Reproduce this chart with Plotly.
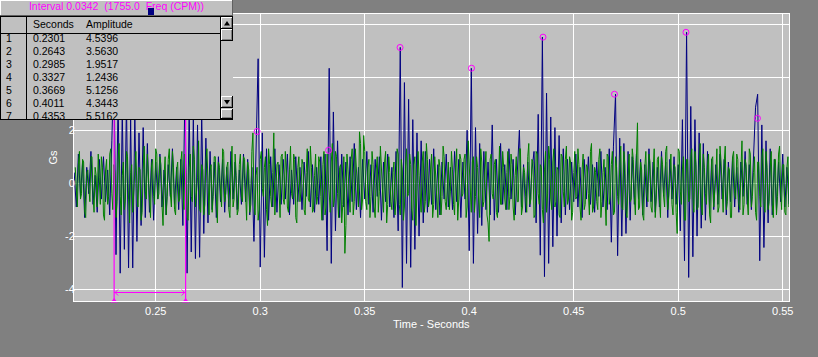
import plotly.graph_objects as go

# ---------------- data ----------------
SAMPLE_DT = 0.001          # seconds between samples within one list
BLUE_START = 0.211         # time of first blue sample
GREEN_START = 0.2115       # time of first green sample (GREEN_GS)
# GREEN_GS_MID holds the green samples that fall half a step after each GREEN_GS sample

BLUE_GS = [
    0.4, -0.9, 1.1, -0.5, 0.8, -1.3, 0.6, -0.4, 1.2, -0.8,
    0.3, -1.1, 0.9, -0.6, 1.0, -0.7, 0.5, -1.2, 1.6, 4.54,
    -2.7, 3.3, -3.4, 2.8, -2.5, 3.1, -3.2, 2.4, -3.2, 2.6,
    -2.2, 1.9, -1.6, 2.1, -1.3, 1.5, -1.1, 0.9, -1.4, 0.8,
    -0.6, 1.1, -0.9, 0.5, -1.2, 0.7, -0.5, 1.3, -0.8, 0.6,
    -1.0, 0.9, -1.6, 3.56, -3.4, 2.9, -2.6, 2.5, -2.85, 2.2,
    -2.8, 2.6, -1.9, 1.7, -1.5, 1.2, -1.0, 0.8, -1.3, 1.0,
    -0.7, 0.9, -1.1, 0.6, -0.9, 1.2, -0.6, 0.8, -1.0, 0.5,
    -0.8, 1.1, -0.7, 0.9, -1.2, 0.6, -2.2, 1.4, 4.7, -3.17,
    1.9, -2.8, 1.3, -1.4, 1.0, -0.9, 1.3, -1.1, 0.7, -0.8,
    0.9, -0.6, 1.1, -1.2, 0.5, -0.8, 1.0, -0.7, 0.6, -1.0,
    0.8, -0.5, 1.2, -0.9, 0.7, -1.1, 0.6, -0.8, 1.0, -1.4,
    1.1, -2.55, 4.34, -3.03, 2.69, -1.8, 1.6, -1.3, 1.1, -0.9,
    0.8, -1.2, 1.0, -0.7, 1.5, -1.0, 0.6, -1.3, 0.9, -0.6,
    1.2, -0.8, 0.7, -1.1, 0.9, -0.5, 1.0, -1.4, 0.8, -0.7,
    1.1, -0.9, 0.6, -1.3, 1.2, -1.8, 5.13, -3.94, 3.8, -3.03,
    3.17, -3.18, 2.4, -2.5, 1.9, -2.0, 1.6, -1.5, 1.2, -1.1,
    0.9, -0.8, 1.3, -1.0, 0.7, -1.2, 0.8, -0.6, 1.1, -0.9,
    0.6, -1.0, 1.2, -0.7, 0.9, -1.3, 0.8, -0.6, 2.0, -2.55,
    4.34, -3.03, 2.1, -1.9, 1.5, -1.6, 1.2, -1.0, 0.8, -1.2,
    2.2, -1.4, 0.9, -1.1, 1.5, -0.8, 0.7, -1.0, 1.3, -0.6,
    0.9, -1.2, 0.6, 2.0, -0.9, 0.7, -1.1, 0.8, -0.9, 0.5,
    1.2, -1.5, 2.6, -2.72, 5.52, -3.53, 3.4, -3.03, 2.5, -2.4,
    2.1, -2.0, 1.8, -1.5, 1.3, -1.2, 0.9, -1.0, 0.8, -0.7,
    1.1, -0.9, 0.6, -1.3, 0.9, -0.6, 1.0, -0.8, 0.7, -1.1,
    0.8, -0.5, 1.2, -0.9, 0.6, -1.0, 1.3, -2.23, 1.4, 3.36,
    -2.74, 1.7, -2.0, 1.5, -1.9, 1.2, -1.4, 1.0, -0.8, 1.1,
    -0.6, 0.9, -1.2, 0.7, -0.9, 1.3, -0.7, 0.8, -1.1, 0.6,
    -0.9, 1.2, -0.5, 0.8, -1.3, 0.9, -0.6, 1.0, -0.8, 0.7,
    -1.8, 2.4, -2.93, 5.70, -3.56, 2.9, -2.78, 2.4, -2.0, 1.9,
    -1.7, 1.5, -1.4, 1.2, -1.1, 0.9, -1.0, 0.7, -0.8, 1.1,
    -0.6, 0.9, -1.2, 0.8, -0.7, 1.0, -0.9, 0.6, -1.1, 0.8,
    -0.5, 1.2, -0.8, 0.7, -1.0, 0.9, 2.87, 3.36, -2.93, 2.2,
    -2.43, 1.6, -1.5, 1.3, -1.2, 0.9, -1.0, 0.8, -0.7, 1.1,
    -0.9, 0.6, -0.8,
]

GREEN_GS = [
    0.6, -0.9, 1.2, -0.4, 0.8, -1.3, 0.5, -0.7, 1.0, -1.1,
    0.3, 1.1, -0.8, 0.6, -1.4, 0.9, -0.5, 1.3, -1.0, 0.4,
    -0.7, 1.5, -1.2, 0.8, -0.6, 1.0, -1.5, 0.7, -0.3, 1.2,
    -0.9, 0.5, -1.1, 1.4, -0.6, 0.2, -1.3, 0.9, -0.8, 1.1,
    -0.4, 0.7, -1.6, 1.0, -0.5, 1.3, -0.9, 0.6, -1.2, 0.8,
    -0.6, 1.2, -1.0, 0.4, -1.4, 1.1, -0.7, 0.9, -0.3, 1.6,
    -1.1, 0.5, -0.8, 1.3, -1.2, 0.7, -0.5, 1.0, -1.5, 0.6,
    -0.9, 1.2, -0.4, 0.8, -1.3, 1.4, -0.6, 0.3, -1.0, 1.1,
    -0.7, 0.9, -1.4, 0.5, -0.8, 1.9, -1.2, 0.6, -1.0, 1.2,
    -0.5, 1.0, -1.6, 0.7, -0.9, 1.9, -0.4, 0.8, -1.3, 1.1,
    -0.8, 0.5, -1.1, 1.4, -0.6, 0.9, -1.5, 1.0, -0.3, 0.7,
    -1.2, 1.3, -0.7, 0.6, -1.0, 1.1, -0.5, 0.8, -1.4, 1.2,
    -0.9, 0.4, -1.1, 1.5, -0.6, 1.0, -1.3, 0.7, -0.8, -2.65,
    1.1, -0.6, 0.9, -1.2, 1.3, -0.4, 1.94, -1.0, 1.8, -0.7,
    0.6, -1.3, 1.2, -0.9, 0.5, -1.1, 1.4, -0.6, 0.8, -1.5,
    1.0, -0.7, 0.4, -1.2, 1.3, -0.8, 0.9, -1.4, 0.6, -0.5,
    1.1, -1.0, 0.7, -1.6, 1.2, -0.4, 0.8, -1.1, 1.5, -0.9,
    0.5, -1.3, 1.0, -0.6, 0.9, -1.2, 1.4, -0.7, 0.3, -1.0,
    1.2, -0.8, 0.6, -1.4, 1.1, -0.5, 0.9, -1.3, 1.6, -0.7,
    0.8, -1.1, 1.0, -0.6, 1.3, -0.9, 0.5, -1.2, -2.2, 1.1,
    -0.6, 0.9, -1.3, 1.4, -0.8, 0.6, -1.0, 1.2, -0.5, 0.7,
    -1.4, 1.0, -0.7, 1.3, -0.9, 0.4, -1.1, 1.5, -0.6, 0.8,
    -1.2, 1.1, -0.8, 0.6, -1.5, 1.2, -0.4, 0.9, -1.0, 1.3,
    -0.7, 0.5, -1.3, 1.0, -0.9, 1.4, -0.6, 0.8, -1.1, 1.2,
    -0.5, 0.7, -1.4, 1.1, -0.8, 0.6, -1.2, 1.5, -0.9, 0.4,
    -1.0, 1.3, -0.7, 0.9, -1.6, 1.0, -0.5, 1.2, -1.1, 0.6,
    -0.8, 1.4, -1.0, 0.7, -1.3, 1.1, -0.6, 0.9, -1.2, 2.28,
    -0.9, 0.5, -1.4, 1.2, -0.7, 0.8, -1.1, 1.3, -0.6, 1.0,
    -1.3, 0.7, -0.9, 1.4, -0.5, 1.1, -1.2, 0.6, -1.9, 1.2,
    -0.8, 1.0, -1.4, 0.9, -0.6, 1.3, -1.1, 0.7, -0.9, 1.5,
    -1.2, 0.6, -0.8, 1.1, -1.5, 1.0, -0.4, 1.3, -0.9, 0.8,
    -1.1, 1.4, -0.7, 0.5, -1.3, 1.2, -0.6, 0.9, -1.0, 1.6,
    -0.8, 0.7, -1.2, 1.1, -0.5, 1.0, -1.4, 0.8, -0.9, 1.3,
    -1.1, 0.6, -0.7, 1.2, -1.3, 0.9, -0.5, 1.4, -1.0, 0.7,
    -1.2, 1.0, -0.6,
]

GREEN_GS_MID = [
    -0.3, 0.7, -0.6, 0.9, -1.1, 0.4, -0.2, 1.0, -0.5, 0.6,
    -0.9, 0.2, 1.0, -1.2, 0.5, -0.8, 1.1, -0.4, 0.7, -1.3,
    0.9, -0.5, 0.3, -1.0, 1.2, -0.6, 0.4, -1.1, 0.8, -0.2,
    0.6, -1.4, 0.5, -0.3, 1.1, -0.9, 0.7, -0.5, 1.3, -0.6,
    1.0, -0.8, 0.3, -1.2, 0.9, -0.4, 1.2, -1.0, 0.5, -0.7,
    0.8, -0.3, 1.1, -1.3, 0.6, -0.5, 1.4, -0.9, 0.2, -1.0,
    0.7, -1.2, 0.9, -0.4, 0.5, -1.1, 1.0, -0.6, 0.8, -0.3,
    1.3, -0.7, 0.6, -1.0, 0.4, -0.9, 1.1, -1.2, 0.7, -0.5,
    1.0, -0.4, 0.8, -1.1, 1.2, -0.6, 0.3, -1.4, 0.9, -0.2,
    0.6, -1.0, 1.3, -0.5, 0.4, -1.2, 0.7, -0.8, 1.0, -0.6,
    1.2, -0.9, 0.5, -0.4, 1.1, -1.3, 0.6, -0.7, 0.9, -1.0,
    0.4, -0.6, 1.4, -1.1, 0.3, -0.8, 1.0, -0.5, 0.7, -1.2,
    1.1, -0.3, 0.8, -0.9, 1.2, -0.4, 0.6, -1.5, 1.0, -1.6,
    0.5, -1.1, 1.3, -0.7, 0.4, -0.9, 1.5, -0.6, 1.2, -1.0,
    0.9, -0.5, 0.7, -1.3, 1.0, -0.3, 0.6, -1.1, 1.2, -0.8,
    0.4, -1.0, 0.8, -0.6, 1.1, -1.2, 0.5, -0.9, 1.3, -0.4,
    0.7, -1.4, 1.0, -0.5, 0.3, -1.1, 1.2, -0.7, 0.9, -0.6,
    1.1, -0.8, 0.4, -1.3, 0.6, -0.5, 1.0, -1.0, 0.8, -0.3,
    0.5, -1.2, 1.3, -0.6, 0.9, -0.4, 1.1, -0.9, 0.7, -1.1,
    1.0, -0.5, 0.6, -1.3, 0.8, -0.7, 1.2, -1.5, 0.9, -0.4,
    0.7, -1.1, 0.5, -0.8, 1.2, -0.6, 0.4, -1.0, 1.1, -0.9,
    0.3, -0.7, 1.3, -1.2, 0.6, -0.5, 1.0, -0.8, 0.9, -1.3,
    1.2, -0.4, 0.7, -1.0, 0.5, -1.1, 1.4, -0.6, 0.8, -0.9,
    0.6, -1.2, 1.1, -0.3, 0.9, -0.8, 1.0, -1.4, 0.4, -0.6,
    1.3, -0.9, 0.5, -1.0, 0.7, -0.4, 1.2, -1.1, 0.6, -0.7,
    0.9, -1.3, 0.4, -0.6, 1.1, -0.8, 0.7, -1.2, 1.0, -0.5,
    0.6, -0.9, 1.2, -1.1, 0.3, -0.7, 1.3, -0.5, 1.0, -1.0,
    0.8, -1.2, 0.6, -0.4, 1.1, -0.9, 0.5, -1.3, 0.9, -0.6,
    1.0, -0.5, 1.2, -1.0, 0.4, -0.8, 0.7, -1.1, 1.3, -0.3,
    0.5, -1.4, 0.9, -0.7, 1.0, -0.6, 1.2, -1.0, 0.6, -0.8,
    1.1, -0.4, 0.7, -1.2, 0.9, -0.9, 0.3, -1.1, 1.4, -0.5,
    0.8, -1.0, 0.6, -1.3, 1.0, -0.4, 1.1, -0.8, 0.5, -1.2,
    0.9, -0.6, 1.3, -0.9, 0.4, -1.1, 0.8, -0.5, 1.0, -0.7,
    1.2, -1.0, 0.6, -0.8, 0.9, -1.2, 1.1, -0.4, 0.7, -1.1,
    0.6, -0.9, 1.0,
]

PEAK_SECONDS = [0.2301, 0.2643, 0.2985, 0.3327, 0.3669, 0.4011, 0.4353, 0.4695, 0.5037, 0.5379]
PEAK_AMPLITUDE = [4.5396, 3.5630, 1.9517, 1.2436, 5.1256, 4.3443, 5.5162, 3.36, 5.70, 2.45]
TABLE_ROWS_SHOWN = 7
INTERVAL_S = 0.0342
FREQ_CPM = 1755.0

X_TICKS = [0.25, 0.3, 0.35, 0.4, 0.45, 0.5, 0.55]
X_TICK_LABELS = ["0.25", "0.3", "0.35", "0.4", "0.45", "0.5", "0.55"]
Y_TICKS = [-4, -2, 0, 2, 4, 6]
# labels for 4 and 6 sit under the list panel in the reference, so they are blank
Y_TICK_LABELS = ["-4", "-2", "0", "2", "", ""]
X_RANGE = [0.2109, 0.5530]
Y_RANGE = [-4.45, 6.39]

X_TITLE = "Time - Seconds"
Y_TITLE = "Gs"
COL_HEADERS = ["Seconds", "Amplitude"]

# ---------------- layout constants (pixels) ----------------
W, H = 818, 357
PL, PR, PT, PB = 74, 789, 14, 301          # plot area edges
PANEL_W, PANEL_H = 233, 120                # overlay list panel
FONT = "Liberation Sans, Arial, sans-serif"
BLUE, GREEN, MAG = "#000080", "#008000", "#FF00FF"

fig = go.Figure()

# ---------------- main signal ----------------
blue_t = [BLUE_START + i * SAMPLE_DT for i in range(len(BLUE_GS))]
green_t, green_v = [], []
for i, v in enumerate(GREEN_GS):
    green_t.append(GREEN_START + i * SAMPLE_DT)
    green_v.append(v)
    if i < len(GREEN_GS_MID):
        green_t.append(GREEN_START + (i + 0.5) * SAMPLE_DT)
        green_v.append(GREEN_GS_MID[i])

fig.add_trace(go.Scatter(x=blue_t, y=BLUE_GS, mode="lines",
                         line=dict(color=BLUE, width=1), hoverinfo="skip"))
fig.add_trace(go.Scatter(x=green_t, y=green_v, mode="lines",
                         line=dict(color=GREEN, width=1), hoverinfo="skip"))

# cursors at first two peaks
for t in PEAK_SECONDS[:2]:
    fig.add_trace(go.Scatter(x=[t, t], y=Y_RANGE, mode="lines",
                             line=dict(color=MAG, width=1.2), hoverinfo="skip"))

# double arrow between cursors (a few px above the bottom)
px_x = (X_RANGE[1] - X_RANGE[0]) / (PR - PL)
px_y = (Y_RANGE[1] - Y_RANGE[0]) / (PB - PT)
ay = Y_RANGE[0] + 8.5 * px_y
x0, x1 = PEAK_SECONDS[0], PEAK_SECONDS[1]
ax_ = [x0, x1, None,
       x0 + 4 * px_x, x0 + 1 * px_x, x0 + 4 * px_x, None,
       x1 - 4 * px_x, x1 - 1 * px_x, x1 - 4 * px_x]
ay_ = [ay, ay, None,
       ay + 3 * px_y, ay, ay - 3 * px_y, None,
       ay + 3 * px_y, ay, ay - 3 * px_y]
fig.add_trace(go.Scatter(x=ax_, y=ay_, mode="lines",
                         line=dict(color=MAG, width=1), hoverinfo="skip"))

# peak markers
fig.add_trace(go.Scatter(x=PEAK_SECONDS, y=PEAK_AMPLITUDE, mode="markers",
                         marker=dict(symbol="circle-open", size=6,
                                     color=MAG, line=dict(color=MAG, width=1)),
                         hoverinfo="skip"))
# cursor foot marks
fig.add_trace(go.Scatter(x=PEAK_SECONDS[:2], y=[Y_RANGE[0]] * 2, mode="markers",
                         marker=dict(symbol="triangle-up", size=6, color=MAG),
                         cliponaxis=False, hoverinfo="skip"))

# ---------------- overlay panel (list box) ----------------
def rect(x0, y0, x1, y1, color):
    return go.Scatter(x=[x0, x1, x1, x0, x0], y=[y0, y0, y1, y1, y0],
                      fill="toself", fillcolor=color, mode="lines",
                      line=dict(width=0, color=color),
                      xaxis="x2", yaxis="y2", hoverinfo="skip")


def segs(lst, color, width=1):
    xs, ys = [], []
    for (a, b, c, d) in lst:
        xs += [a, c, None]
        ys += [b, d, None]
    return go.Scatter(x=xs, y=ys, mode="lines", line=dict(color=color, width=width),
                      xaxis="x2", yaxis="y2", hoverinfo="skip")


def texts(xs, ys, labels, color="black", size=10.5, pos="middle right"):
    return go.Scatter(x=xs, y=ys, text=labels, mode="text", textposition=pos,
                      textfont=dict(family=FONT, size=size, color=color),
                      cliponaxis=True, xaxis="x2", yaxis="y2", hoverinfo="skip")


fig.add_trace(rect(0, 0, PANEL_W, PANEL_H, "#C0C0C0"))

# header text and marker square
nb = "\u00a0"
header = (f"Interval {INTERVAL_S:.4f}{nb}{nb}({FREQ_CPM:.1f}{nb}{nb}Freq{nb}(CPM))")
fig.add_trace(texts([PANEL_W / 2], [7.5], [header], color=MAG, size=10.5, pos="middle center"))
fig.add_trace(rect(148, 8, 154, 15.5, "#000080"))

# column headings and rows
fig.add_trace(texts([33, 86], [25.5, 25.5], COL_HEADERS))
row_y = [39.3 + 12.95 * i for i in range(TABLE_ROWS_SHOWN)]
fig.add_trace(texts([6] * TABLE_ROWS_SHOWN, row_y,
                    [str(i + 1) for i in range(TABLE_ROWS_SHOWN)]))
fig.add_trace(texts([33] * TABLE_ROWS_SHOWN, row_y,
                    [f"{v:.4f}" for v in PEAK_SECONDS[:TABLE_ROWS_SHOWN]]))
fig.add_trace(texts([86] * TABLE_ROWS_SHOWN, row_y,
                    [f"{v:.4f}" for v in PEAK_AMPLITUDE[:TABLE_ROWS_SHOWN]]))

# header bar bevel
fig.add_trace(segs([(0, 0.5, PANEL_W, 0.5), (0.5, 0, 0.5, 16)], "white"))
fig.add_trace(segs([(0, 15.5, PANEL_W, 15.5), (PANEL_W - 0.5, 0, PANEL_W - 0.5, 16)], "#606060"))

# scroll bar buttons
def button(x0, y0, x1, y1):
    fig.add_trace(rect(x0, y0, x1, y1, "#C0C0C0"))
    fig.add_trace(segs([(x0, y0 + 0.5, x1, y0 + 0.5), (x0 + 0.5, y0, x0 + 0.5, y1)], "white"))
    fig.add_trace(segs([(x0 + 1, y1 - 1.5, x1 - 1, y1 - 1.5),
                        (x1 - 1.5, y0 + 1, x1 - 1.5, y1 - 1)], "#808080"))
    fig.add_trace(segs([(x0, y1 - 0.5, x1, y1 - 0.5), (x1 - 0.5, y0, x1 - 0.5, y1)], "black"))


button(221, 17, 233, 29)
button(221, 29, 233, 41)
button(221, 96, 233, 108)
button(221, 109, 233, 119)
fig.add_trace(go.Scatter(x=[224, 230, 227, 224], y=[25.5, 25.5, 21, 25.5], fill="toself",
                         fillcolor="black", mode="lines", line=dict(width=0, color="black"),
                         xaxis="x2", yaxis="y2", hoverinfo="skip"))
fig.add_trace(go.Scatter(x=[224, 230, 227, 224], y=[100, 100, 104.5, 100], fill="toself",
                         fillcolor="black", mode="lines", line=dict(width=0, color="black"),
                         xaxis="x2", yaxis="y2", hoverinfo="skip"))

# black frame lines of the list
fig.add_trace(segs([(0, 16.5, PANEL_W, 16.5), (0.5, 16, 0.5, PANEL_H),
                    (0, PANEL_H - 0.5, PANEL_W, PANEL_H - 0.5),
                    (1, 33.5, 220, 33.5), (26.5, 17, 26.5, 119),
                    (220.5, 17, 220.5, 119)], "black"))

# ---------------- layout ----------------
axis_font = dict(family=FONT, size=11, color="white")
fig.update_layout(
    width=W, height=H,
    margin=dict(l=0, r=0, t=0, b=0, pad=0),
    paper_bgcolor="#808080", plot_bgcolor="#C0C0C0",
    showlegend=False, font=dict(family=FONT, size=11, color="white"),
    xaxis=dict(domain=[PL / W, PR / W], range=X_RANGE, tickvals=X_TICKS,
               ticktext=X_TICK_LABELS, showgrid=True, gridcolor="white", gridwidth=1,
               zeroline=False, showline=True, linecolor="white", linewidth=1,
               mirror=True, ticks="", tickfont=axis_font, automargin=False,
               fixedrange=True, anchor="y"),
    yaxis=dict(domain=[1 - PB / H, 1 - PT / H], range=Y_RANGE, tickvals=Y_TICKS,
               ticktext=Y_TICK_LABELS, showgrid=True, gridcolor="white", gridwidth=1,
               zeroline=False, showline=True, linecolor="white", linewidth=1,
               mirror=True, ticks="", tickfont=axis_font, automargin=False,
               ticklabelstandoff=-4, fixedrange=True, anchor="x"),
    xaxis2=dict(domain=[0, PANEL_W / W], range=[0, PANEL_W], visible=False,
                fixedrange=True, anchor="y2"),
    yaxis2=dict(domain=[1 - PANEL_H / H, 1], range=[PANEL_H, 0], visible=False,
                fixedrange=True, anchor="x2"),
    annotations=[
        dict(text=X_TITLE, xref="paper", yref="paper", x=(PL + PR) / 2 / W,
             y=1 - 324 / H, showarrow=False, xanchor="center", yanchor="middle",
             font=axis_font),
        dict(text=Y_TITLE, xref="paper", yref="paper", x=52 / W,
             y=1 - (PT + PB) / 2 / H, showarrow=False, xanchor="center",
             yanchor="middle", textangle=-90, font=axis_font),
    ],
)

fig.write_html("out.html", config={"displayModeBar": False},
               post_script="document.body.style.margin='0';")
